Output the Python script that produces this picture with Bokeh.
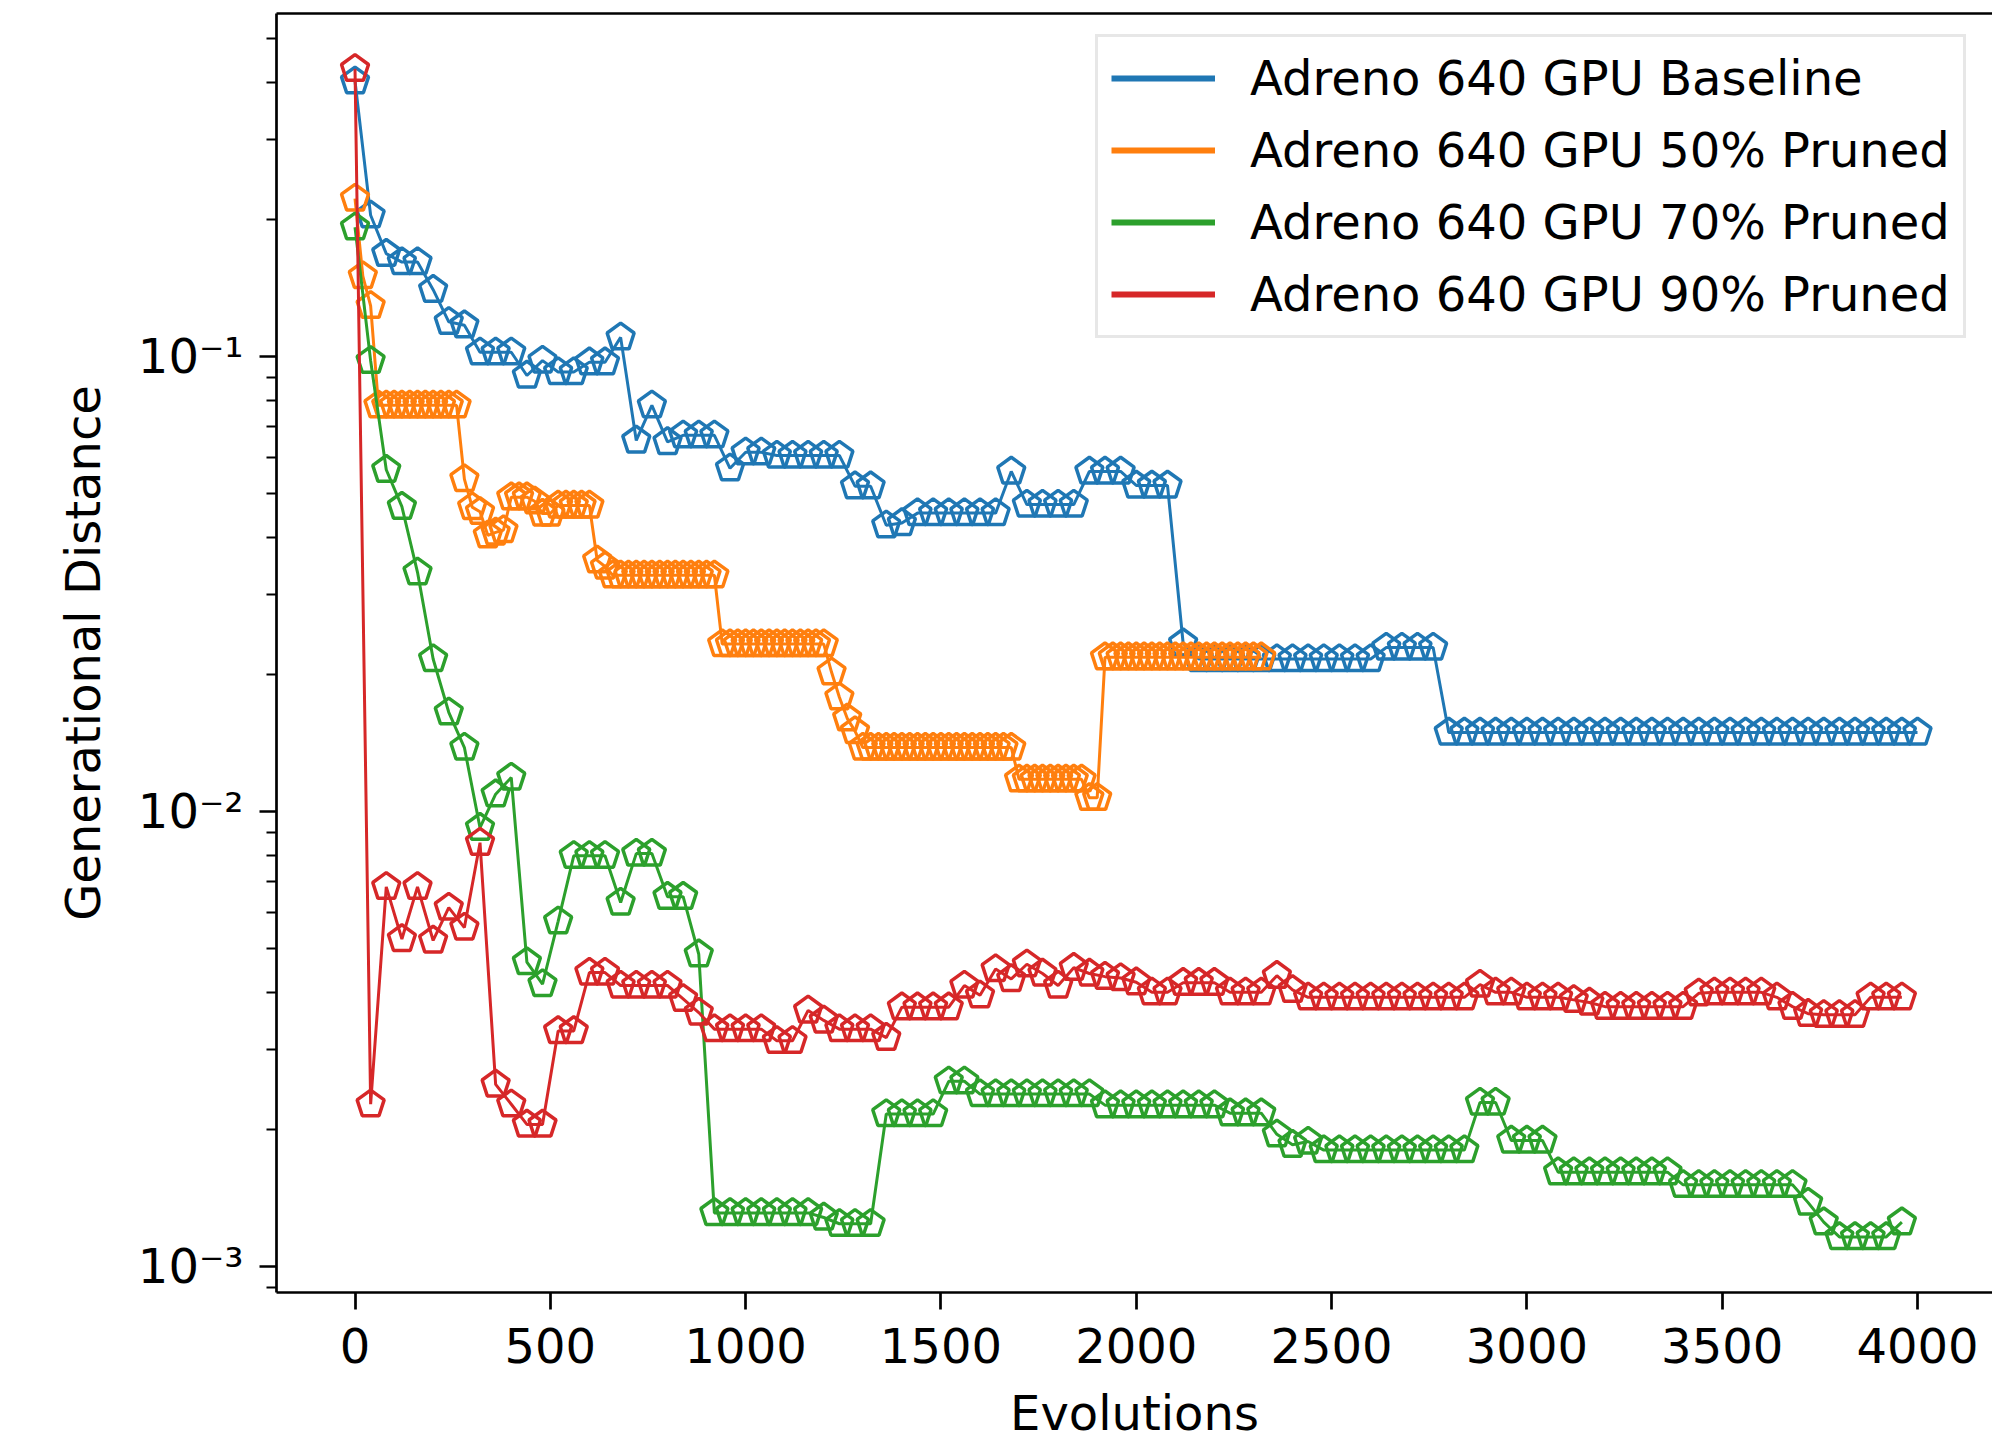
import numpy as np
from bokeh.plotting import figure
from bokeh.models import (Range1d, FixedTicker, CustomJSTickFormatter, Legend, LegendItem,
                          ColumnDataSource, LinearAxis)
from bokeh.embed import file_html
from bokeh.resources import INLINE

# ---------------- data ----------------
series_names = ["Adreno 640 GPU Baseline", "Adreno 640 GPU 50% Pruned",
                "Adreno 640 GPU 70% Pruned", "Adreno 640 GPU 90% Pruned"]
series_colors = ["#1f77b4", "#ff7f0e", "#2ca02c", "#d62728"]

baseline_step = 40
pruned50_step = 20
pruned70_step = 40
pruned90_step = 40

baseline = [
    0.402, 0.204, 0.168, 0.161, 0.161, 0.140, 0.119, 0.117, 0.102, 0.102,
    0.102, 0.0907, 0.0978, 0.0923, 0.0923, 0.097, 0.097, 0.110, 0.0653, 0.078,
    0.0648, 0.067, 0.067, 0.067, 0.0567, 0.0615, 0.0615, 0.0605, 0.0605, 0.0605,
    0.0605, 0.0605, 0.0518, 0.0518, 0.0425, 0.043, 0.0452, 0.0452, 0.0452, 0.0452,
    0.0452, 0.0452, 0.0558, 0.0472, 0.0472, 0.0472, 0.0472, 0.0558, 0.0558, 0.0558,
    0.052, 0.052, 0.052, 0.0234, 0.0216, 0.0216, 0.0216, 0.0216, 0.0216, 0.0216,
    0.0216, 0.0216, 0.0216, 0.0216, 0.0216, 0.0216, 0.0229, 0.0229, 0.0229, 0.0229,
    0.0149, 0.0149, 0.0149, 0.0149, 0.0149, 0.0149, 0.0149, 0.0149, 0.0149, 0.0149,
    0.0149, 0.0149, 0.0149, 0.0149, 0.0149, 0.0149, 0.0149, 0.0149, 0.0149, 0.0149,
    0.0149, 0.0149, 0.0149, 0.0149, 0.0149, 0.0149, 0.0149, 0.0149, 0.0149, 0.0149,
    0.0149,
]

pruned50 = [
    0.222, 0.150, 0.129, 0.078, 0.078, 0.078, 0.078, 0.078, 0.078, 0.078,
    0.078, 0.078, 0.078, 0.078, 0.0537, 0.0466, 0.0455, 0.0404, 0.041, 0.0415,
    0.049, 0.049, 0.049, 0.048, 0.0451, 0.0451, 0.047, 0.047, 0.047, 0.047,
    0.047, 0.0356, 0.0345, 0.033, 0.033, 0.033, 0.033, 0.033, 0.033, 0.033,
    0.033, 0.033, 0.033, 0.033, 0.033, 0.033, 0.033, 0.0233, 0.0233, 0.0233,
    0.0233, 0.0233, 0.0233, 0.0233, 0.0233, 0.0233, 0.0233, 0.0233, 0.0233, 0.0233,
    0.0233, 0.0202, 0.0178, 0.0160, 0.0150, 0.0138, 0.0138, 0.0138, 0.0138, 0.0138,
    0.0138, 0.0138, 0.0138, 0.0138, 0.0138, 0.0138, 0.0138, 0.0138, 0.0138, 0.0138,
    0.0138, 0.0138, 0.0138, 0.0138, 0.0138, 0.01175, 0.01175, 0.01175, 0.01175, 0.01175,
    0.01175, 0.01175, 0.01175, 0.01175, 0.0107, 0.0107, 0.0218, 0.0218, 0.0218, 0.0218,
    0.0218, 0.0218, 0.0218, 0.0218, 0.0218, 0.0218, 0.0218, 0.0218, 0.0218, 0.0218,
    0.0218, 0.0218, 0.0218, 0.0218, 0.0218, 0.0218, 0.0218,
]

pruned70 = [
    0.192, 0.0977, 0.0563, 0.0467, 0.0335, 0.0216, 0.0165, 0.0138, 0.0092, 0.0109,
    0.01186, 0.00466, 0.00417, 0.00573, 0.00798, 0.00798, 0.00798, 0.0063, 0.00807, 0.00807,
    0.00649, 0.00649, 0.00485, 0.00131, 0.00131, 0.00131, 0.00131, 0.00131, 0.00131, 0.00131,
    0.00128, 0.00124, 0.00124, 0.00124, 0.00216, 0.00216, 0.00216, 0.00216, 0.00255, 0.00255,
    0.00239, 0.00239, 0.00239, 0.00239, 0.00239, 0.00239, 0.00239, 0.00239, 0.00226, 0.00226,
    0.00226, 0.00226, 0.00226, 0.00226, 0.00226, 0.00226, 0.00217, 0.00217, 0.00217, 0.00195,
    0.00185, 0.00188, 0.0018, 0.0018, 0.0018, 0.0018, 0.0018, 0.0018, 0.0018, 0.0018,
    0.0018, 0.0018, 0.00229, 0.00229, 0.00189, 0.00189, 0.00189, 0.00161, 0.00161, 0.00161,
    0.00161, 0.00161, 0.00161, 0.00161, 0.00161, 0.00151, 0.00151, 0.00151, 0.00151, 0.00151,
    0.00151, 0.00151, 0.00151, 0.00138, 0.00125, 0.00116, 0.00116, 0.00116, 0.00116, 0.00125,
]

pruned90 = [
    0.428, 0.00227, 0.00682, 0.00524, 0.00682, 0.0052, 0.00614, 0.00555, 0.00853, 0.00251,
    0.00227, 0.00205, 0.00205, 0.00329, 0.00329, 0.00442, 0.00442, 0.00414, 0.00414, 0.00414,
    0.00414, 0.00387, 0.00361, 0.00332, 0.00332, 0.00332, 0.00332, 0.00313, 0.00313, 0.00365,
    0.00347, 0.00332, 0.00332, 0.00332, 0.00318, 0.00371, 0.00371, 0.00371, 0.00371, 0.00414,
    0.00394, 0.0045, 0.00428, 0.00461, 0.0044, 0.00414, 0.00453, 0.0044, 0.00433, 0.0043,
    0.00421, 0.004, 0.004, 0.0042, 0.0042, 0.0042, 0.004, 0.004, 0.004, 0.00435,
    0.00405, 0.0039, 0.0039, 0.0039, 0.0039, 0.0039, 0.0039, 0.0039, 0.0039, 0.0039,
    0.0039, 0.0039, 0.00416, 0.004, 0.004, 0.0039, 0.0039, 0.0039, 0.00385, 0.0038,
    0.00372, 0.00372, 0.00372, 0.00372, 0.00372, 0.00372, 0.00398, 0.004, 0.004, 0.004,
    0.004, 0.0039, 0.00372, 0.00359, 0.00357, 0.00357, 0.00357, 0.0039, 0.0039, 0.0039,
]

x_ticks = [0, 500, 1000, 1500, 2000, 2500, 3000, 3500, 4000]
y_major_ticks = [0.001, 0.01, 0.1]
y_minor_ticks = [m * d for d in (0.0001, 0.001, 0.01, 0.1) for m in range(2, 10)]

series_values = [baseline, pruned50, pruned70, pruned90]
series_steps = [baseline_step, pruned50_step, pruned70_step, pruned90_step]

# ---------------- figure ----------------
FONT = "DejaVu Sans"
FS = "48px"

p = figure(width=1992, height=1438, frame_width=1716, frame_height=1279,
           min_border_left=276, min_border_right=0, min_border_top=13, min_border_bottom=146,
           y_axis_type="log",
           x_range=Range1d(-201, 4192), y_range=Range1d(8.757e-4, 0.5664),
           output_backend="svg", toolbar_location=None)
p.outline_line_color = None
p.xgrid.visible = False
p.ygrid.visible = False
p.background_fill_color = "white"
p.border_fill_color = "white"

legend_items = []
for name, col, vals, step in zip(series_names, series_colors, series_values, series_steps):
    xs = np.arange(len(vals)) * step
    src = ColumnDataSource(dict(x=xs, y=vals))
    p.line("x", "y", source=src, line_color=col, line_width=3)
    p.ngon(x="x", y="y", radius=14.2, radius_units="screen", n=5, source=src,
           fill_color=None, line_color=col, line_width=3.5)
    # legend handle: line only (as in the original legend)
    lr = p.line(x=[0.0], y=[float("nan")], line_color=col, line_width=6)
    legend_items.append(LegendItem(label=name, renderers=[lr]))

# axes
xa = p.xaxis[0]
xa.ticker = FixedTicker(ticks=x_ticks)
ya = p.yaxis[0]
ya.ticker = FixedTicker(ticks=y_major_ticks, minor_ticks=y_minor_ticks)
ya.formatter = CustomJSTickFormatter(code="""
const e = Math.round(Math.log10(tick));
const sup = {'-1': '\u207b\u00b9', '-2': '\u207b\u00b2', '-3': '\u207b\u00b3', '0': '\u2070'};
return '10' + (sup[String(e)] || e);
""")
for ax in (xa, ya):
    ax.axis_line_width = 2.7
    ax.axis_line_color = "black"
    ax.major_tick_line_width = 2.7
    ax.minor_tick_line_width = 2.2
    ax.major_tick_out = 17
    ax.major_tick_in = 0
    ax.minor_tick_out = 10
    ax.minor_tick_in = 0
    ax.major_label_text_font = FONT
    ax.major_label_text_font_size = FS
    ax.major_label_text_color = "black"
    ax.axis_label_text_font = FONT
    ax.axis_label_text_font_size = FS
    ax.axis_label_text_font_style = "normal"
    ax.axis_label_text_color = "black"
xa.minor_tick_out = 0
xa.axis_label = "Evolutions"
ya.axis_label = "Generational Distance"
xa.major_label_standoff = 18
ya.major_label_standoff = 16
xa.axis_label_standoff = 19
ya.axis_label_standoff = 24

top = LinearAxis(ticker=FixedTicker(ticks=[]), major_label_text_font_size="0px",
                 axis_line_width=2.7, major_tick_out=0, minor_tick_out=0)
p.add_layout(top, "above")

legend = Legend(items=legend_items, location=(819, 954))
legend.label_text_font = FONT
legend.label_text_font_size = FS
legend.label_text_color = "black"
legend.glyph_width = 104
legend.glyph_height = 48
legend.label_standoff = 35
legend.padding = 13
legend.spacing = 16
legend.margin = 0
legend.border_line_color = "#d0d0d0"
legend.border_line_width = 3
legend.background_fill_alpha = 0.85
p.add_layout(legend)

open("out.html", "w").write(file_html(p, INLINE))
